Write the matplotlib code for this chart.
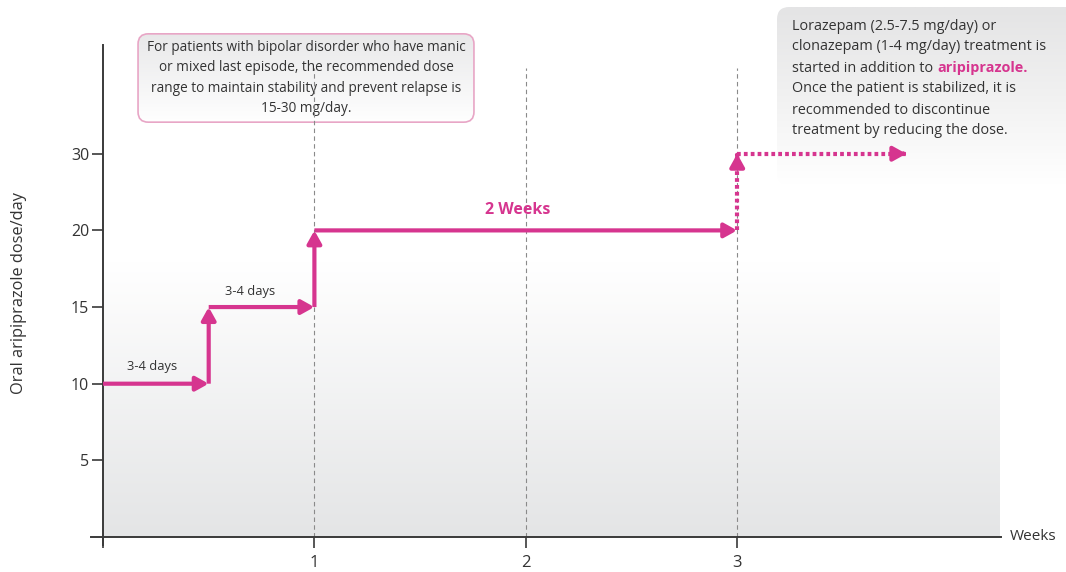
import numpy as np
import matplotlib
matplotlib.use("Agg")
import matplotlib.pyplot as plt
import matplotlib.transforms as mtransforms
from matplotlib.patches import FancyBboxPatch
from matplotlib.colors import LinearSegmentedColormap

plt.rcParams['font.family'] = ['Open Sans', 'DejaVu Sans']

# ---------------- data ----------------
step_weeks = [0, 0.5, 0.5, 1, 1, 3, 3, 3.8]
step_dose = [10, 10, 15, 15, 20, 20, 30, 30]
dotted_from = 5  # segments from this index on are dotted
week_ticks = [0, 1, 2, 3]
week_labels = ["", "1", "2", "3"]
dose_ticks = [5, 10, 15, 20, 30]
dose_labels = ["5", "10", "15", "20", "30"]
guide_weeks = [1, 2, 3]
seg_labels = ["3-4 days", "3-4 days", "2 Weeks"]
seg_label_x = [0.232, 0.695, 1.96]
seg_label_y = [11.1, 16.0, 22.6]
box1_lines = ("For patients with bipolar disorder who have manic\n"
              "or mixed last episode, the recommended dose\n"
              "range to maintain stability and prevent relapse is\n"
              "15-30 mg/day.")
box2_lines = ["Lorazepam (2.5-7.5 mg/day) or",
              "clonazepam (1-4 mg/day) treatment is",
              "started in addition to ",
              "Once the patient is stabilized, it is",
              "recommended to discontinue",
              "treatment by reducing the dose."]
box2_bold = "aripiprazole."

MAG = '#d6358f'
TXT = '#333333'
AX = '#3a3a3a'

W, H = 1066, 572
fig = plt.figure(figsize=(W / 100, H / 100), dpi=100)

def fax(l, t, r, b):
    return [l / W, 1 - b / H, (r - l) / W, (b - t) / H]

# the dose axis is compressed above 20 (30 sits one 5-step above 20)
def fwd(y):
    y = np.asarray(y, dtype=float)
    return np.where(y <= 20, y, 20 + (y - 20) / 2.0)

def inv(y):
    y = np.asarray(y, dtype=float)
    return np.where(y <= 20, y, 20 + (y - 20) * 2.0)

# ---------- box 1 ----------
axb1 = fig.add_axes(fax(136, 32, 476, 124))
axb1.set_zorder(0)
axb1.axis('off')
axb1.set_xlim(0, 1); axb1.set_ylim(0, 1)
p1 = FancyBboxPatch((0.006, 0.02), 0.988, 0.96, boxstyle="round,pad=0,rounding_size=0.03",
                    mutation_aspect=340 / 92, fc='none', ec='#e8a6c6', lw=1.2,
                    transform=axb1.transAxes, zorder=3)
axb1.add_patch(p1)
g1 = np.linspace(0, 1, 100).reshape(-1, 1)
cm1 = LinearSegmentedColormap.from_list('g1', ['#ffffff', '#e8e8e9'])
im1 = axb1.imshow(g1, cmap=cm1, extent=[0, 1, 0, 1], origin='lower', aspect='auto', zorder=1)
im1.set_clip_path(p1)
axb1.text(0.5, 0.5, box1_lines, ha='center', va='center', fontsize=9.8,
          color=TXT, linespacing=1.5, transform=axb1.transAxes, zorder=4)

# ---------- box 2 ----------
axb2 = fig.add_axes(fax(777, 7, 1085, 185))
axb2.set_zorder(0)
axb2.axis('off')
axb2.set_xlim(0, 1); axb2.set_ylim(0, 1)
p2 = FancyBboxPatch((0.0, 0.0), 1.0, 1.0, boxstyle="round,pad=0,rounding_size=0.04",
                    mutation_aspect=308 / 178, fc='none', ec='none',
                    transform=axb2.transAxes, zorder=3)
axb2.add_patch(p2)
cm2 = LinearSegmentedColormap.from_list('g2', ['#ffffff', '#f1f1f1', '#e4e4e5'])
im2 = axb2.imshow(g1, cmap=cm2, extent=[0, 1, 0, 1], origin='lower', aspect='auto', zorder=1)
im2.set_clip_path(p2)

line_y = [26, 47, 68, 89, 110, 130]
for i, (txt, yy) in enumerate(zip(box2_lines, line_y)):
    t = fig.text(792 / W, 1 - yy / H, txt, ha='left', va='center', fontsize=10.4,
                 color=TXT, zorder=5)
    if i == 2:
        fig.canvas.draw()
        bb = t.get_window_extent()
        fig.text(bb.x1 / W, 1 - yy / H, box2_bold, ha='left', va='center',
                 fontsize=10.4, color=MAG, fontweight='bold', zorder=5)

# ---------- main axes ----------
PXW = 211.4   # pixels per week
PXD = 15.33   # pixels per dose unit (linear part)
ax = fig.add_axes(fax(91, 45, 1001, 545))
ax.set_zorder(1)
ax.patch.set_visible(False)
ax.set_yscale('function', functions=(fwd, inv))
x0 = (91 - 103) / PXW
x1 = (1001 - 103) / PXW
y0 = (537 - 545) / PXD
y1 = float(inv((537 - 45) / PXD))
ax.set_xlim(x0, x1)
ax.set_ylim(y0, y1)

# background gradient
g = np.linspace(0, 1, 200).reshape(-1, 1)
cmb = LinearSegmentedColormap.from_list('bg', ['#e4e5e6', '#ffffff'])
ax.imshow(g, cmap=cmb, extent=[0, x1, 0, 18], origin='lower', aspect='auto', zorder=0)

for s in ['top', 'right']:
    ax.spines[s].set_visible(False)
ax.spines['left'].set_position(('data', 0))
ax.spines['bottom'].set_position(('data', 0))
for s in ['left', 'bottom']:
    ax.spines[s].set_color(AX)
    ax.spines[s].set_linewidth(1.4)
    ax.spines[s].set_zorder(3)

ax.set_xticks(week_ticks)
ax.set_xticklabels(week_labels)
ax.set_yticks(dose_ticks)
ax.set_yticklabels(dose_labels)
ax.yaxis.set_minor_locator(matplotlib.ticker.NullLocator())
ax.tick_params(axis='x', direction='out', length=8, width=1.2, color=AX, pad=5,
               labelsize=12, labelcolor=TXT)
ax.tick_params(axis='y', direction='out', length=8, width=1.2, color=AX, pad=2,
               labelsize=11.5, labelcolor=TXT)

# guide lines
guide_top = float(inv(30.6))
for gw in guide_weeks:
    ax.plot([gw, gw], [0, guide_top], color='#8a8a8a', lw=0.8, ls=(0, (4, 3)), zorder=2)

# step arrows
aprops = dict(arrowstyle='-|>,head_length=0.45,head_width=0.25', color=MAG, lw=3,
              mutation_scale=17, shrinkA=0, shrinkB=0, capstyle='butt')
for i in range(len(step_weeks) - 1):
    xs, ys = step_weeks[i], step_dose[i]
    xe, ye = step_weeks[i + 1], step_dose[i + 1]
    if i >= dotted_from:
        ax.plot([xs, xe], [ys, ye], color=MAG, lw=3, ls=(0, (0.9, 0.75)),
                solid_capstyle='butt', dash_capstyle='butt', zorder=4)
        ax.annotate("", xy=(xe, ye), xytext=(xe - 0.02 * (xe - xs), ye - 0.02 * (ye - ys)),
                    arrowprops=aprops, zorder=4)
    else:
        ax.annotate("", xy=(xe, ye), xytext=(xs, ys), arrowprops=aprops, zorder=4)

for lab, lx, ly in zip(seg_labels, seg_label_x, seg_label_y):
    if lab == "2 Weeks":
        ax.text(lx, ly, lab, ha='center', va='center', fontsize=11.5,
                fontweight='bold', color=MAG, zorder=5)
    else:
        ax.text(lx, ly, lab, ha='center', va='center', fontsize=9.3, color=TXT, zorder=5)

ax.text(1.01, 0, "Weeks",
        transform=mtransforms.blended_transform_factory(ax.transAxes, ax.transData),
        ha='left', va='center', fontsize=11, color=TXT)

fig.text(19 / W, 1 - 293 / H, "Oral aripiprazole dose/day", rotation=90,
         ha='center', va='center', fontsize=11.8, color=TXT)

fig.savefig("out.png", dpi=100)
